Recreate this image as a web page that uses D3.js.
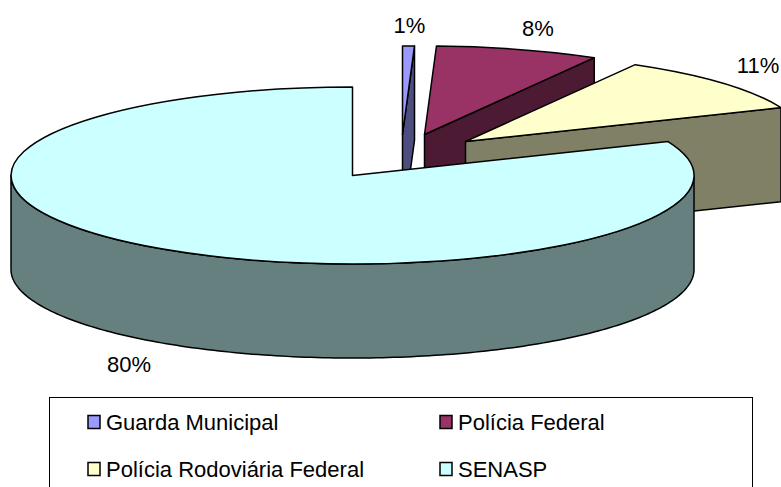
<!DOCTYPE html>
<html>
<head>
<meta charset="utf-8">
<script src="https://cdn.jsdelivr.net/npm/d3@7"></script>
<style>
  html, body { margin: 0; padding: 0; background: #fff; overflow: hidden; }
  text { font-family: "Liberation Sans", Arial, sans-serif; fill: #000; }
</style>
</head>
<body>
<div id="chart"></div>
<script>
// categories and values
const categories = ["Guarda Municipal", "Polícia Federal", "Polícia Rodoviária Federal", "SENASP"];
const shares = [0.56, 7.72, 10.47, 81.25]; // slice sizes
const percentLabels = ["1%", "8%", "11%", "80%"];

// colours
const topColors = ["#9999FF", "#993366", "#FFFFCC", "#CCFFFF"];
const sideColors = ["#4D4D80", "#4D1A33", "#808066", "#668080"];

// layout
const width = 781, height = 487;
const cx = 352.5, cy = 175.5, rx = 341.5, ry = 88.5, depth = 94;
const explode = [[50, -41], [72, -41], [113, -34], [0, 0]];
const labelPos = [[409.5, 33], [538, 36], [758, 73], [129, 372]];
const legendPos = [[88, 415], [440, 415], [88, 462], [440, 462]];

const svg = d3.select("#chart").append("svg")
    .attr("width", width)
    .attr("height", height)
    .style("display", "block");

const pie = d3.pie().sort(null)(shares);
const arc = d3.arc().innerRadius(0).outerRadius(1);

// point on the tilted ellipse for an angle measured clockwise from 12 o'clock
const px = a => rx * Math.sin(a);
const py = a => -ry * Math.cos(a);

const slices = svg.append("g")
    .selectAll("g")
    .data(pie)
    .enter()
    .append("g")
    .attr("transform", (d, i) => `translate(${cx + explode[i][0]},${cy + explode[i][1]})`);

// cut face, only the closing edge of each slice looks at the viewer
slices.filter(d => d.index < 3)
    .append("path")
    .attr("d", d => {
        const line = d3.line();
        const e = [px(d.endAngle), py(d.endAngle)];
        return line([[0, 0], e, [e[0], e[1] + depth], [0, depth]]) + "Z";
    })
    .attr("fill", d => sideColors[d.index])
    .attr("stroke", "#000")
    .attr("stroke-width", 1.5)
    .attr("stroke-linejoin", "round");

// outer wall, front half of the ellipse
slices.filter(d => d.index === 3)
    .append("path")
    .attr("d", d => {
        const angles = d3.range(Math.PI / 2, 3 * Math.PI / 2 + 0.001, Math.PI / 180);
        const top = angles.map(a => [px(a), py(a)]);
        const bottom = angles.slice().reverse().map(a => [px(a), py(a) + depth]);
        return d3.line()(top.concat(bottom)) + "Z";
    })
    .attr("fill", d => sideColors[d.index])
    .attr("stroke", "#000")
    .attr("stroke-width", 1.5)
    .attr("stroke-linejoin", "round");

// top faces
slices.append("path")
    .attr("d", arc)
    .attr("transform", `scale(${rx},${ry})`)
    .attr("vector-effect", "non-scaling-stroke")
    .attr("fill", d => topColors[d.index])
    .attr("stroke", "#000")
    .attr("stroke-width", 1.5)
    .attr("stroke-linejoin", "round");

// percent labels
svg.append("g")
    .selectAll("text")
    .data(percentLabels)
    .enter()
    .append("text")
    .text(d => d)
    .attr("x", (d, i) => labelPos[i][0])
    .attr("y", (d, i) => labelPos[i][1])
    .attr("text-anchor", "middle")
    .style("font-size", "22px");

// legend, its box runs past the bottom of the picture
svg.append("rect")
    .attr("x", 49.5)
    .attr("y", 397.5)
    .attr("width", 703)
    .attr("height", 110)
    .attr("fill", "#fff")
    .attr("stroke", "#000")
    .attr("stroke-width", 1);

const legend = svg.append("g")
    .selectAll("g")
    .data(categories)
    .enter()
    .append("g")
    .attr("transform", (d, i) => `translate(${legendPos[i][0]},${legendPos[i][1]})`);

legend.append("rect")
    .attr("x", 0)
    .attr("y", 0.5)
    .attr("width", 12)
    .attr("height", 13)
    .attr("fill", (d, i) => topColors[i])
    .attr("stroke", "#000")
    .attr("stroke-width", 1.5);

legend.append("text")
    .text(d => d)
    .attr("x", 18)
    .attr("y", (d, i) => i < 2 ? 15 : 14.5)
    .style("font-size", "22px");
</script>
</body>
</html>
